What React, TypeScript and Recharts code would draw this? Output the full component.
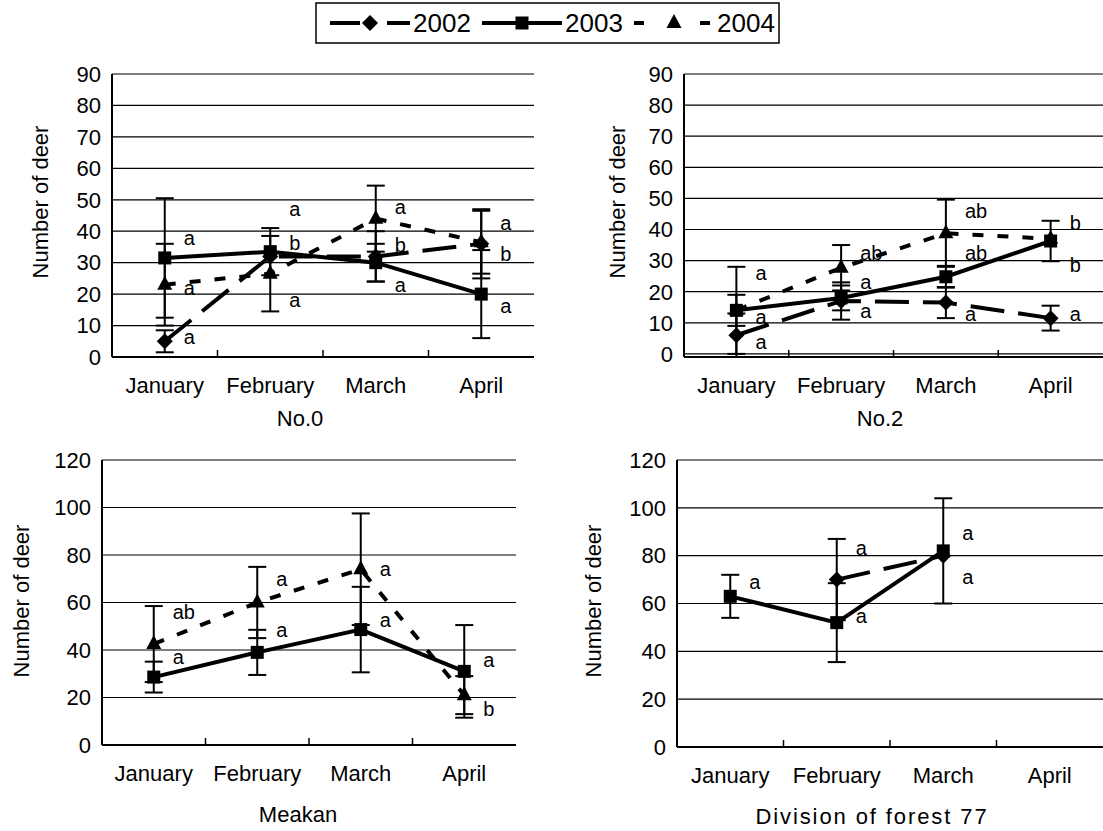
import React from 'react'
import { ComposedChart, Line, XAxis, YAxis, CartesianGrid, ErrorBar, ReferenceDot } from 'recharts'

const FONT = '"Liberation Sans", Arial, sans-serif'

const months = ['January', 'February', 'March', 'April']
const years = ['2002', '2003', '2004']
const topTicks = [0, 10, 20, 30, 40, 50, 60, 70, 80, 90]
const bottomTicks = [0, 20, 40, 60, 80, 100, 120]

// No.0
const no0V2002 = [5, 32, 32, 36]
const no0E2002 = [3.5, null, 8, 11]
const no0V2003 = [31.5, 33.5, 30, 20]
const no0E2003 = [19, 7.5, 6, 14]
const no0V2004 = [23, 26.5, 44, 36.5]
const no0E2004 = [13, 12, 10.5, 10]
const no0Letters = [
  { month: 'January', y: 38, text: 'a' },
  { month: 'January', y: 22, text: 'a' },
  { month: 'January', y: 6.4, text: 'a' },
  { month: 'February', y: 47, text: 'a' },
  { month: 'February', y: 36.3, text: 'b' },
  { month: 'February', y: 18, text: 'a' },
  { month: 'March', y: 47.7, text: 'a' },
  { month: 'March', y: 35.6, text: 'b' },
  { month: 'March', y: 23, text: 'a' },
  { month: 'April', y: 42.5, text: 'a' },
  { month: 'April', y: 32.6, text: 'b' },
  { month: 'April', y: 16.2, text: 'a' },
]

// No.2
const no2V2002 = [6, 17, 16.5, 11.5]
const no2E2002 = [7, 6, 5, 4]
const no2V2003 = [14, 18, 24.8, 36.3]
const no2E2003 = [14, 4, 3.5, 6.5]
const no2V2004 = [14, 27.7, 38.8, 37]
const no2E2004 = [5, 7.3, 10.8, null]
const no2Letters = [
  { month: 'January', y: 26, text: 'a' },
  { month: 'January', y: 11.8, text: 'a' },
  { month: 'January', y: 3.8, text: 'a' },
  { month: 'February', y: 32.4, text: 'ab' },
  { month: 'February', y: 23, text: 'a' },
  { month: 'February', y: 13.7, text: 'a' },
  { month: 'March', y: 46, text: 'ab' },
  { month: 'March', y: 32.4, text: 'ab' },
  { month: 'March', y: 12.7, text: 'a' },
  { month: 'April', y: 42, text: 'b' },
  { month: 'April', y: 28.6, text: 'b' },
  { month: 'April', y: 12.7, text: 'a' },
]

// Meakan
const meaV2002 = [null, null, null, null]
const meaE2002 = [null, null, null, null]
const meaV2003 = [28.6, 39, 48.6, 31]
const meaE2003 = [6.5, 9.5, 18, 19.5]
const meaV2004 = [42.5, 60, 74, 21]
const meaE2004 = [16, 15, 23.5, 8]
const meaLetters = [
  { month: 'January', y: 56, text: 'ab' },
  { month: 'January', y: 37, text: 'a' },
  { month: 'February', y: 70, text: 'a' },
  { month: 'February', y: 48.4, text: 'a' },
  { month: 'March', y: 74, text: 'a' },
  { month: 'March', y: 52.6, text: 'a' },
  { month: 'April', y: 36, text: 'a' },
  { month: 'April', y: 15, text: 'b' },
]

// Division of forest 77
const divV2002 = [null, 70, 80, null]
const divE2002 = [null, 17, null, null]
const divV2003 = [63, 52, 82, null]
const divE2003 = [9, 16.5, 22, null]
const divV2004 = [null, null, null, null]
const divE2004 = [null, null, null, null]
const divLetters = [
  { month: 'January', y: 69, text: 'a' },
  { month: 'February', y: 83, text: 'a' },
  { month: 'February', y: 54.6, text: 'a' },
  { month: 'March', y: 89.5, text: 'a' },
  { month: 'March', y: 71, text: 'a' },
]

type Val = number | null

function buildRows(v2002: Val[], e2002: Val[], v2003: Val[], e2003: Val[], v2004: Val[], e2004: Val[]) {
  return months.map((month, i) => ({
    month,
    v2002: v2002[i], e2002: e2002[i],
    v2003: v2003[i], e2003: e2003[i],
    v2004: v2004[i], e2004: e2004[i],
  }))
}

// marker shapes
const Diamond = (props: any) => {
  const { cx, cy, index } = props
  if (cx == null || cy == null) return <g key={`d${index}`} />
  const r = 8
  return <path key={`d${index}`} d={`M${cx},${cy - r}L${cx + r},${cy}L${cx},${cy + r}L${cx - r},${cy}Z`} fill="#000" />
}
const Square = (props: any) => {
  const { cx, cy, index } = props
  if (cx == null || cy == null) return <g key={`s${index}`} />
  const h = 6.5
  return <rect key={`s${index}`} x={cx - h} y={cy - h} width={h * 2} height={h * 2} fill="#000" />
}
const Triangle = (props: any) => {
  const { cx, cy, index } = props
  if (cx == null || cy == null) return <g key={`t${index}`} />
  return <path key={`t${index}`} d={`M${cx},${cy - 9}L${cx + 7.5},${cy + 5}L${cx - 7.5},${cy + 5}Z`} fill="#000" />
}

const dash2002 = '34 14'
const dash2004 = '11 14'
const TICK_GAP = 20

// month label plus the small inward tick at the left band boundary
const MonthTick = (props: any) => {
  const { x, y, payload, index, band } = props
  const axisY = y - TICK_GAP
  return (
    <g>
      {index > 0 && (
        <line x1={x - band / 2} x2={x - band / 2} y1={axisY} y2={axisY - 7} stroke="#000" strokeWidth={1.5} />
      )}
      <text x={x} y={y} dy="0.71em" textAnchor="middle" fontSize={22} fontFamily={FONT} fill="#000">
        {payload.value}
      </text>
    </g>
  )
}

interface PanelProps {
  rows: ReturnType<typeof buildRows>
  letters: { month: string; y: number; text: string }[]
  ticks: number[]
  left: number
  top: number
  width: number
  height: number
  margin: { top: number; right: number; left: number; bottom: number }
  yWidth: number
  titlePos: [number, number]
}

function Panel({ rows, letters, ticks, left, top, width, height, margin, yWidth, titlePos }: PanelProps) {
  const yMax = ticks[ticks.length - 1]
  const band = (width - margin.left - margin.right - yWidth) / months.length
  const yTitle = () => (
    <text
      x={titlePos[0]}
      y={titlePos[1]}
      transform={`rotate(-90 ${titlePos[0]} ${titlePos[1]})`}
      textAnchor="middle"
      dominantBaseline="central"
      fontSize={22}
      fontFamily={FONT}
      fill="#000"
    >
      Number of deer
    </text>
  )
  return (
    <div style={{ position: 'absolute', left, top }}>
      <ComposedChart width={width} height={height} data={rows} margin={margin}>
        <CartesianGrid horizontal vertical={false} stroke="#000" strokeWidth={1.2} />
        <XAxis
          dataKey="month"
          padding={{ left: band / 2, right: band / 2 }}
          height={30}
          tickLine={false}
          tickSize={0}
          tickMargin={TICK_GAP}
          axisLine={{ stroke: '#000', strokeWidth: 2 }}
          tick={(p: any) => <MonthTick {...p} band={band} />}
          interval={0}
        />
        <YAxis
          domain={[0, yMax]}
          ticks={ticks}
          width={yWidth}
          tickLine={false}
          tickSize={0}
          tickMargin={11}
          axisLine={{ stroke: '#000', strokeWidth: 2 }}
          tick={{ fill: '#000', fontSize: 22, fontFamily: FONT }}
          interval={0}
          label={yTitle}
        />
        <YAxis
          yAxisId="right"
          orientation="right"
          domain={[0, yMax]}
          allowDataOverflow
          width={0}
          tick={false}
          tickLine={false}
          axisLine={{ stroke: '#000', strokeWidth: 2 }}
        />
        <Line dataKey="v2002" stroke="#000" strokeWidth={4} strokeDasharray={dash2002} dot={Diamond} activeDot={false} isAnimationActive={false}>
          <ErrorBar dataKey="e2002" width={9} stroke="#000" strokeWidth={2} direction="y" isAnimationActive={false} />
        </Line>
        <Line dataKey="v2004" stroke="#000" strokeWidth={4} strokeDasharray={dash2004} dot={Triangle} activeDot={false} isAnimationActive={false}>
          <ErrorBar dataKey="e2004" width={9} stroke="#000" strokeWidth={2} direction="y" isAnimationActive={false} />
        </Line>
        <Line dataKey="v2003" stroke="#000" strokeWidth={4} dot={Square} activeDot={false} isAnimationActive={false}>
          <ErrorBar dataKey="e2003" width={9} stroke="#000" strokeWidth={2} direction="y" isAnimationActive={false} />
        </Line>
        {letters.map((l, i) => (
          <ReferenceDot
            key={i}
            x={l.month}
            y={l.y}
            r={0}
            ifOverflow="visible"
            shape={(p: any) => (
              <text x={p.cx + 19} y={p.cy} dy="0.35em" fontSize={20} fontFamily={FONT} fill="#000">
                {l.text}
              </text>
            )}
          />
        ))}
      </ComposedChart>
    </div>
  )
}

function Legend() {
  const samples = [
    { dash: '30 27', shape: Diamond },
    { dash: undefined, shape: Square },
    { dash: '10 56', shape: Triangle },
  ]
  return (
    <svg width={466} height={43} style={{ position: 'absolute', left: 315, top: 2 }}>
      <rect x={1} y={1} width={463} height={40} fill="#fff" stroke="#000" strokeWidth={1.5} />
      {years.map((yr, i) => {
        const x0 = 15 + i * 152
        const S = samples[i].shape
        return (
          <g key={yr}>
            <line x1={x0} y1={21} x2={x0 + 80} y2={21} stroke="#000" strokeWidth={4} strokeDasharray={samples[i].dash} />
            <S cx={x0 + 40} cy={21} index={i} />
            <text x={x0 + 83} y={21} dy="0.36em" fontSize={26} fontFamily={FONT} fill="#000">
              {yr}
            </text>
          </g>
        )
      })}
    </svg>
  )
}

const titleStyle = (x: number, y: number, extra: React.CSSProperties = {}): React.CSSProperties => ({
  position: 'absolute',
  left: x,
  top: y,
  transform: 'translate(-50%, -50%)',
  fontSize: 22,
  fontFamily: FONT,
  whiteSpace: 'nowrap',
  color: '#000',
  ...extra,
})

export default function App() {
  return (
    <div style={{ position: 'absolute', left: 0, top: 0, width: 1103, height: 831, background: '#fff', overflow: 'hidden' }}>
      <Panel
        rows={buildRows(no0V2002, no0E2002, no0V2003, no0E2003, no0V2004, no0E2004)}
        letters={no0Letters}
        ticks={topTicks}
        left={0}
        top={40}
        width={560}
        height={360}
        margin={{ top: 34, right: 26, left: 0, bottom: 13 }}
        yWidth={112}
        titlePos={[40, 162]}
      />
      <Panel
        rows={buildRows(no2V2002, no2E2002, no2V2003, no2E2003, no2V2004, no2E2004)}
        letters={no2Letters}
        ticks={topTicks}
        left={570}
        top={40}
        width={533}
        height={360}
        margin={{ top: 34, right: 0, left: 0, bottom: 13 }}
        yWidth={114}
        titlePos={[47, 162]}
      />
      <Panel
        rows={buildRows(meaV2002, meaE2002, meaV2003, meaE2003, meaV2004, meaE2004)}
        letters={meaLetters}
        ticks={bottomTicks}
        left={0}
        top={440}
        width={540}
        height={360}
        margin={{ top: 20, right: 24, left: 0, bottom: 25 }}
        yWidth={102}
        titlePos={[21, 161]}
      />
      <Panel
        rows={buildRows(divV2002, divE2002, divV2003, divE2003, divV2004, divE2004)}
        letters={divLetters}
        ticks={bottomTicks}
        left={560}
        top={440}
        width={543}
        height={360}
        margin={{ top: 20, right: 0, left: 0, bottom: 23 }}
        yWidth={117}
        titlePos={[33, 161]}
      />
      <Legend />
      <div style={titleStyle(300, 419)}>No.0</div>
      <div style={titleStyle(880, 419)}>No.2</div>
      <div style={titleStyle(298, 815)}>Meakan</div>
      <div style={titleStyle(872, 817, { letterSpacing: 1.9 })}>Division of forest 77</div>
    </div>
  )
}
